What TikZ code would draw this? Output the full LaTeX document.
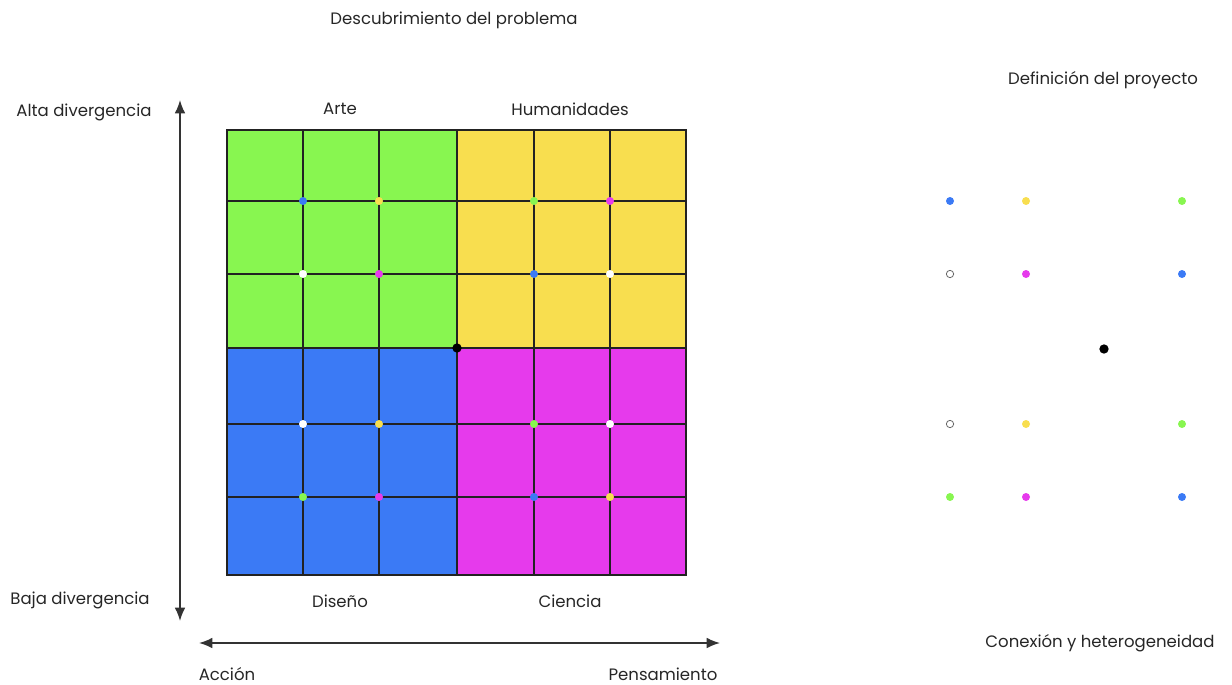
\documentclass[tikz,border=0pt]{standalone}
\usepackage{fontspec}
\setmainfont{Poppins}
\usetikzlibrary{arrows.meta}
\definecolor{verde}{HTML}{88F650}
\definecolor{amarillo}{HTML}{F8DE4F}
\definecolor{azul}{HTML}{3B7AF5}
\definecolor{magenta}{HTML}{E63AEC}
\definecolor{linea}{HTML}{222222}
\tikzset{
  rotulo/.style={font=\fontsize{12.4}{14}\selectfont, text=black!85, inner sep=1pt},
  punto/.style={circle, inner sep=0pt, minimum size=6pt, fill=#1, draw=none},
  hueco/.style={circle, inner sep=0pt, minimum size=5.5pt, fill=white, draw=black!60, line width=.6pt},
  eje/.style={line width=1.2pt, black!80, {Latex[length=10pt,width=8pt]}-{Latex[length=10pt,width=8pt]}}
}
\begin{document}
\begin{tikzpicture}[x=.75pt,y=-.75pt]
\useasboundingbox (0,0) rectangle (1232,685);

% cuadrantes
\fill[verde] (227,130) rectangle (457,348);
\fill[amarillo] (457,130) rectangle (686,348);
\fill[azul] (227,348) rectangle (457,575);
\fill[magenta] (457,348) rectangle (686,575);
\foreach \x in {303,379,457,534,610}
  \draw[linea, line width=1.4pt] (\x,130) -- (\x,575);
\foreach \y in {201,274,348,424,497}
  \draw[linea, line width=1.4pt] (227,\y) -- (686,\y);
\draw[linea, line width=1.6pt] (227,130) rectangle (686,575);

% puntos de la cuadricula
\node[punto=azul] (g1) at (303,201) {};
\node[punto=amarillo] (g2) at (379,201) {};
\node[punto=white] (g3) at (303,274) {};
\node[punto=magenta] (g4) at (379,274) {};
\node[punto=verde] (h1) at (534,201) {};
\node[punto=magenta] (h2) at (610,201) {};
\node[punto=azul] (h3) at (534,274) {};
\node[punto=white] (h4) at (610,274) {};
\node[punto=white] (d1) at (303,424) {};
\node[punto=amarillo] (d2) at (379,424) {};
\node[punto=verde] (d3) at (303,497) {};
\node[punto=magenta] (d4) at (379,497) {};
\node[punto=verde] (c1) at (534,424) {};
\node[punto=white] (c2) at (610,424) {};
\node[punto=azul] (c3) at (534,497) {};
\node[punto=amarillo] (c4) at (610,497) {};
\node[punto=black, minimum size=7pt] (centro) at (457,348) {};

% puntos sueltos
\node[punto=azul] (p11) at (950,201) {};
\node[punto=amarillo] (p12) at (1026,201) {};
\node[punto=verde] (p13) at (1182,201) {};
\node[hueco] (p21) at (950,274) {};
\node[punto=magenta] (p22) at (1026,274) {};
\node[punto=azul] (p23) at (1182,274) {};
\node[punto=black, minimum size=7pt] (pc) at (1104,349) {};
\node[hueco] (p31) at (950,424) {};
\node[punto=amarillo] (p32) at (1026,424) {};
\node[punto=verde] (p33) at (1182,424) {};
\node[punto=verde] (p41) at (950,497) {};
\node[punto=magenta] (p42) at (1026,497) {};
\node[punto=azul] (p43) at (1182,497) {};

% ejes
\coordinate (arriba) at (180,100);
\coordinate (abajo) at (180,621);
\coordinate (izq) at (199,643);
\coordinate (der) at (720,643);
\draw[eje] (abajo) -- (arriba);
\draw[eje] (izq) -- (der);

% textos
\node[rotulo] (titulo) at (454,20) {Descubrimiento del problema};
\node[rotulo] (defi) at (1103,80) {Definición del proyecto};
\node[rotulo] (alta) at (84,112) {Alta divergencia};
\node[rotulo] (baja) at (80,600) {Baja divergencia};
\node[rotulo] (arte) at (340,109) {Arte};
\node[rotulo] (huma) at (570,109) {Humanidades};
\node[rotulo] (dise) at (340,601) {Diseño};
\node[rotulo] (cien) at (570,601) {Ciencia};
\node[rotulo] (accion) at (227,674) {Acción};
\node[rotulo] (pens) at (663,674) {Pensamiento};
\node[rotulo] (conex) at (1100,643) {Conexión y heterogeneidad};
\end{tikzpicture}
\end{document}
